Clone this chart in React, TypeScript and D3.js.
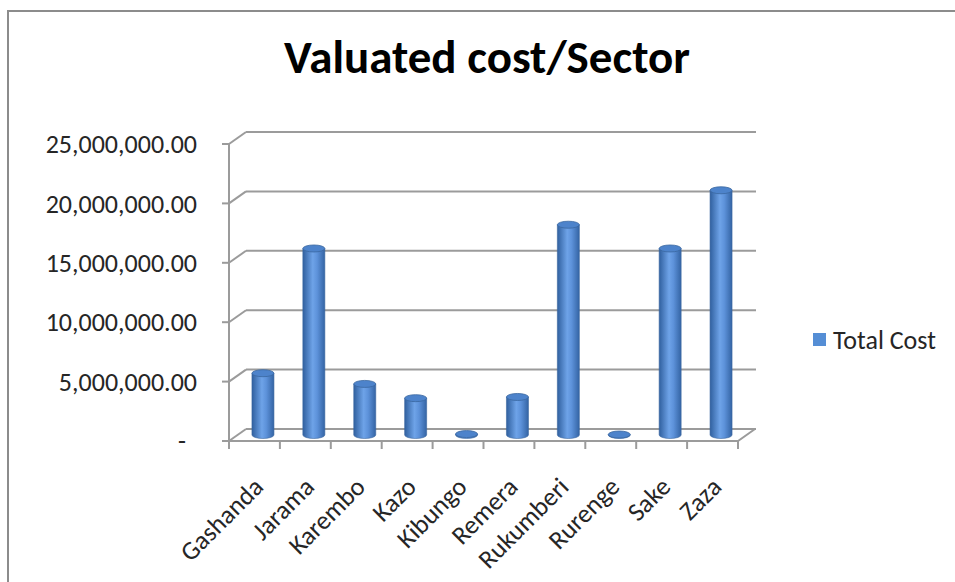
import { useEffect, useRef } from 'react';
import * as d3 from 'd3';

// Data
const sectors = ['Gashanda', 'Jarama', 'Karembo', 'Kazo', 'Kibungo', 'Remera', 'Rukumberi', 'Rurenge', 'Sake', 'Zaza'];
const totalCost = [5200000, 15700000, 4300000, 3100000, 80000, 3200000, 17700000, 40000, 15700000, 20600000];
const yTicks = [0, 5000000, 10000000, 15000000, 20000000, 25000000];
const seriesName = 'Total Cost';
const chartTitle = 'Valuated cost/Sector';

const FONT = "Calibri, Carlito, 'Open Sans', sans-serif";

export default function App() {
    const svgRef = useRef<SVGSVGElement>(null);

    useEffect(() => {
        if (!svgRef.current) return;
        const width = 955;
        const height = 582;

        d3.select(svgRef.current).selectAll('*').remove();
        const svg = d3.select(svgRef.current).attr('width', width).attr('height', height);

        // 3D depth offset of the back wall
        const dx = 17;
        const dy = -12;

        const x = d3.scaleBand<string>().domain(sectors).range([229, 738]).padding(0);
        const y = d3.scaleLinear().domain([0, 25000000]).range([441, 144]);

        const defs = svg.append('defs');
        const grad = defs
            .append('linearGradient')
            .attr('id', 'cyl')
            .attr('x1', '0%')
            .attr('x2', '100%')
            .attr('y1', '0%')
            .attr('y2', '0%');
        grad.append('stop').attr('offset', '0%').attr('stop-color', '#30609f');
        grad.append('stop').attr('offset', '45%').attr('stop-color', '#6ea3e8');
        grad.append('stop').attr('offset', '65%').attr('stop-color', '#5d92da');
        grad.append('stop').attr('offset', '100%').attr('stop-color', '#3464a4');

        // chart frame
        svg.append('rect')
            .attr('x', 8)
            .attr('y', 11)
            .attr('width', 960)
            .attr('height', 600)
            .attr('fill', '#fff')
            .attr('stroke', '#8c8c8c')
            .attr('stroke-width', 2);

        // title
        svg.append('text')
            .attr('x', 487)
            .attr('y', 73)
            .attr('text-anchor', 'middle')
            .attr('font-family', FONT)
            .attr('font-weight', 'bold')
            .attr('font-size', 47)
            .attr('fill', '#000')
            .text(chartTitle);

        const grid = svg.append('g').attr('stroke', '#9b9b9b').attr('stroke-width', 2).attr('fill', 'none');
        const [x0, x1] = x.range();

        // back wall gridlines + diagonals to the front axis
        yTicks.forEach((t) => {
            grid.append('line')
                .attr('x1', x0 + dx)
                .attr('x2', x1 + dx + 1)
                .attr('y1', y(t) + dy)
                .attr('y2', y(t) + dy);
            grid.append('line')
                .attr('x1', x0)
                .attr('x2', x0 + dx)
                .attr('y1', y(t))
                .attr('y2', y(t) + dy);
            grid.append('line')
                .attr('x1', x0 - 7)
                .attr('x2', x0)
                .attr('y1', y(t))
                .attr('y2', y(t));
        });

        // floor
        grid.append('path').attr('d', `M${x0},${y(0)}L${x1},${y(0)}L${x1 + dx},${y(0) + dy}`);
        // front vertical axis
        grid.append('line')
            .attr('x1', x0)
            .attr('x2', x0)
            .attr('y1', y(25000000))
            .attr('y2', y(0));
        // category ticks
        const bounds = sectors.map((s) => x(s) as number).concat([x1]);
        bounds.forEach((b) => {
            grid.append('line').attr('x1', b).attr('x2', b).attr('y1', y(0)).attr('y2', y(0) + 8);
        });

        // y labels
        svg.append('g')
            .selectAll('text')
            .data(yTicks)
            .enter()
            .append('text')
            .attr('x', (d) => (d === 0 ? 186 : 197))
            .attr('y', (d) => y(d))
            .attr('dy', '0.35em')
            .attr('text-anchor', 'end')
            .attr('font-family', FONT)
            .attr('font-size', 26)
            .attr('fill', '#262626')
            .text((d) => (d === 0 ? '-' : d3.format(',.2f')(d)));

        // cylinders
        const bw = 22;
        const rx = bw / 2;
        const ry = 3.5;
        const bars = svg.append('g');
        sectors.forEach((s, i) => {
            const cx = (x(s) as number) + x.bandwidth() / 2 + dx / 2;
            const base = y(0) + dy / 2;
            const top = y(totalCost[i]) + dy / 2;
            bars.append('path')
                .attr(
                    'd',
                    `M${cx - rx},${top}L${cx - rx},${base}A${rx},${ry} 0 0 0 ${cx + rx},${base}L${cx + rx},${top}Z`
                )
                .attr('fill', 'url(#cyl)')
                .attr('stroke', '#3a679f')
                .attr('stroke-width', 0.6);
            bars.append('ellipse')
                .attr('cx', cx)
                .attr('cy', top)
                .attr('rx', rx)
                .attr('ry', ry)
                .attr('fill', '#4d83cb')
                .attr('stroke', '#3a679f')
                .attr('stroke-width', 0.8);
        });

        // category labels
        svg.append('g')
            .selectAll('text')
            .data(sectors)
            .enter()
            .append('text')
            .attr('transform', (d) => {
                const cx = (x(d) as number) + x.bandwidth() / 2 + 4;
                return `translate(${cx},${482}) rotate(-45)`;
            })
            .attr('dy', '0.35em')
            .attr('text-anchor', 'end')
            .attr('font-family', FONT)
            .attr('font-size', 26)
            .attr('fill', '#262626')
            .text((d) => d);

        // legend
        const legend = svg.append('g').attr('transform', 'translate(813,333)');
        legend.append('rect').attr('width', 13).attr('height', 13).attr('fill', '#558ed5');
        legend
            .append('text')
            .attr('x', 20)
            .attr('y', 7)
            .attr('dy', '0.35em')
            .attr('font-family', FONT)
            .attr('font-size', 26)
            .attr('fill', '#262626')
            .text(seriesName);
    }, []);

    return (
        <div style={{ position: 'absolute', left: 0, top: 0 }}>
            <svg ref={svgRef} style={{ display: 'block' }} />
        </div>
    );
}
